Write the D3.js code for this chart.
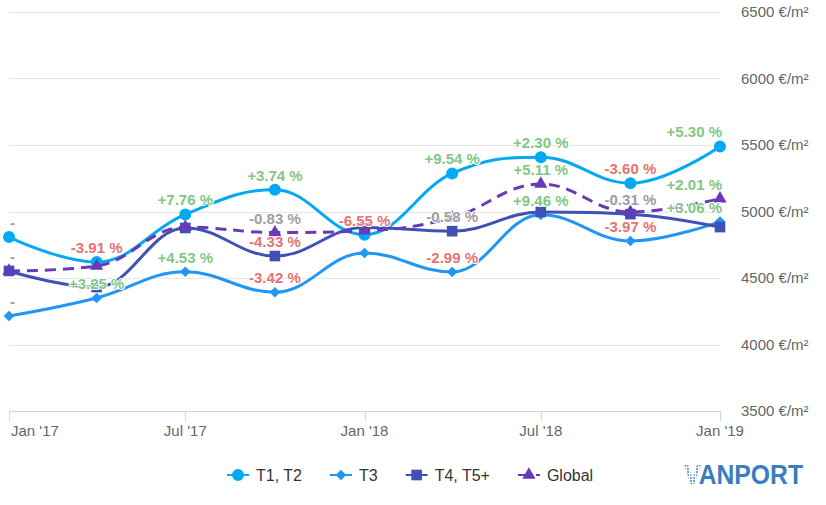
<!DOCTYPE html>
<html>
<head>
<meta charset="utf-8">
<script src="https://cdn.jsdelivr.net/npm/d3@7"></script>
<style>
  html, body { margin: 0; padding: 0; background: #fff; }
  svg { display: block; font-family: "Liberation Sans", Arial, sans-serif; }
</style>
</head>
<body>
<svg id="chart" width="826" height="505"></svg>
<script>
// ---------------- data ----------------
const dates = ["2017-01-01","2017-04-01","2017-07-01","2017-10-01","2018-01-01","2018-04-01","2018-07-01","2018-10-01","2019-01-01"];
const xTicks = ["2017-01-01","2017-07-01","2018-01-01","2018-07-01","2019-01-01"];
const yTicks = [3500, 4000, 4500, 5000, 5500, 6000, 6500];
const seriesNames = ["T1, T2", "T3", "T4, T5+", "Global"];

const t1Values = [4808, 4620, 4978, 5164, 4826, 5286, 5408, 5213, 5489];
const t3Values = [4214, 4350, 4547, 4393, 4688, 4545, 4975, 4778, 4924];
const t4Values = [4553, 4432, 4876, 4665, 4880, 4852, 4996, 4980, 4883];
const globalValues = [4553, 4590, 4883, 4842, 4855, 4954, 5207, 4996, 5097];

const t1Labels = ["-", "-3.91 %", "+7.76 %", "+3.74 %", "-6.55 %", "+9.54 %", "+2.30 %", "-3.60 %", "+5.30 %"];
const t3Labels = ["-", "+3.25 %", "+4.53 %", "-3.42 %", null, "-2.99 %", "+9.46 %", "-3.97 %", "+3.06 %"];
const t4Labels = ["-", null, null, "-4.33 %", null, "-0.58 %", null, "-0.31 %", null];
const globalLabels = [null, null, null, "-0.83 %", null, null, "+5.11 %", null, "+2.01 %"];

// ---------------- setup ----------------
const svg = d3.select("#chart");
const parse = d3.timeParse("%Y-%m-%d");
const plot = { left: 9, right: 720, top: 12, bottom: 411 };

const x = d3.scaleTime()
  .domain([parse("2017-01-01"), parse("2019-01-01")])
  .range([plot.left, plot.right]);
const y = d3.scaleLinear().domain([3500, 6500]).range([plot.bottom, plot.top]);

const series = [
  { name: seriesNames[0], values: t1Values, labels: t1Labels, color: "#03a9f4", symbol: "circle", dash: null },
  { name: seriesNames[1], values: t3Values, labels: t3Labels, color: "#2196f3", symbol: "diamond", dash: null },
  { name: seriesNames[2], values: t4Values, labels: t4Labels, color: "#3f51b5", symbol: "square", dash: null },
  { name: seriesNames[3], values: globalValues, labels: globalLabels, color: "#673ab7", symbol: "triangle", dash: "11,7" }
];

// ---------------- grid ----------------
const grid = svg.append("g");
grid.selectAll("line").data(yTicks.filter(d => d !== 3500)).join("line")
  .attr("x1", plot.left).attr("x2", plot.right + 1)
  .attr("y1", d => Math.round(y(d)) + 0.5).attr("y2", d => Math.round(y(d)) + 0.5)
  .attr("stroke", "#e6e6e6").attr("stroke-width", 1);

// y labels (right side)
svg.append("g").selectAll("text").data(yTicks).join("text")
  .attr("x", 741).attr("y", d => y(d) + 5)
  .attr("font-size", 15).attr("fill", "#666")
  .text(d => d + " €/m²");

// x axis
const xAxis = svg.append("g");
xAxis.append("line")
  .attr("x1", plot.left).attr("x2", plot.right + 1)
  .attr("y1", plot.bottom + 0.5).attr("y2", plot.bottom + 0.5)
  .attr("stroke", "#ccd6eb");
const xt = xAxis.selectAll("g.tick").data(xTicks.map(parse)).join("g").attr("class", "tick");
xt.append("line")
  .attr("x1", d => Math.round(x(d)) + 0.5).attr("x2", d => Math.round(x(d)) + 0.5)
  .attr("y1", plot.bottom).attr("y2", plot.bottom + 10)
  .attr("stroke", "#ccd6eb");
const fmt = d3.timeFormat("%b '%y");
xt.append("text")
  .attr("x", (d, i) => i === 0 ? x(d) + 2 : x(d))
  .attr("y", 436)
  .attr("text-anchor", (d, i) => i === 0 ? "start" : "middle")
  .attr("font-size", 15).attr("fill", "#666")
  .text(d => fmt(d));

// ---------------- Highcharts-like spline ----------------
function splinePath(pts) {
  const p = d3.path();
  let prevRight = null;
  pts.forEach((pt, i) => {
    const [px, py] = pt;
    if (i === 0) { p.moveTo(px, py); return; }
    const last = pts[i - 1], next = pts[i + 1];
    let lcx = px, lcy = py, rc = null;
    if (next) {
      const sm = 1.5, den = 2.5;
      lcx = (sm * px + last[0]) / den; lcy = (sm * py + last[1]) / den;
      let rcx = (sm * px + next[0]) / den, rcy = (sm * py + next[1]) / den;
      let corr = 0;
      if (rcx !== lcx) corr = ((rcy - lcy) * (rcx - px)) / (rcx - lcx) + py - rcy;
      lcy += corr; rcy += corr;
      if (lcy > last[1] && lcy > py) { lcy = Math.max(last[1], py); rcy = 2 * py - lcy; }
      else if (lcy < last[1] && lcy < py) { lcy = Math.min(last[1], py); rcy = 2 * py - lcy; }
      if (rcy > next[1] && rcy > py) { rcy = Math.max(next[1], py); lcy = 2 * py - rcy; }
      else if (rcy < next[1] && rcy < py) { rcy = Math.min(next[1], py); lcy = 2 * py - rcy; }
      rc = [rcx, rcy];
    }
    const r0 = prevRight || last;
    p.bezierCurveTo(r0[0], r0[1], lcx, lcy, px, py);
    prevRight = rc;
  });
  return p.toString();
}

const symbolMap = {
  circle: d3.symbolCircle, diamond: d3.symbolDiamond2, square: d3.symbolSquare2, triangle: d3.symbolTriangle2
};
const symbolSize = { circle: 113, diamond: 72, square: 144, triangle: 125 };
function marker(sel, s) {
  const sym = d3.symbol().type(symbolMap[s.symbol]).size(symbolSize[s.symbol]);
  sel.attr("d", sym).attr("fill", s.color);
}

// ---------------- series ----------------
const seriesG = svg.append("g");
series.forEach(s => {
  const pts = dates.map((d, i) => [x(parse(d)), y(s.values[i])]);
  seriesG.append("path")
    .attr("d", splinePath(pts))
    .attr("fill", "none").attr("stroke", s.color).attr("stroke-width", 3)
    .attr("stroke-linecap", s.dash ? "butt" : "round").attr("stroke-linejoin", "round")
    .attr("stroke-dasharray", s.dash);
  seriesG.append("g").selectAll("path").data(pts).join("path")
    .attr("transform", d => `translate(${d[0]},${d[1]})`)
    .call(marker, s);
});

// ---------------- data labels ----------------
function labelColor(t) {
  if (t === "-") return "#9e9e9e";
  const v = parseFloat(t);
  if (Math.abs(v) < 1) return "#9e9e9e";
  return v > 0 ? "#81c784" : "#e57373";
}
const labelG = svg.append("g");
series.forEach(s => {
  dates.forEach((d, i) => {
    const t = s.labels[i];
    if (t == null) return;
    const cx = x(parse(d)), cy = y(s.values[i]) - 14;
    const txt = labelG.append("text")
      .attr("y", cy + 5)
      .attr("font-size", 15).attr("font-weight", "bold")
      .attr("fill", labelColor(t))
      .attr("stroke", "#fff").attr("stroke-width", 2).attr("stroke-linejoin", "round")
      .attr("paint-order", "stroke")
      .text(t);
    const w = txt.node().getComputedTextLength();
    let left = cx - w / 2;
    if (left < plot.left + 1) left = plot.left + 1;
    if (left + w > plot.right + 2) left = plot.right + 2 - w;
    txt.attr("x", left);
  });
});

// ---------------- legend ----------------
const legend = svg.append("g");
let lx = 227;
const ly = 475;
series.forEach(s => {
  const g = legend.append("g");
  g.append("line")
    .attr("x1", lx).attr("x2", lx + 22).attr("y1", ly).attr("y2", ly)
    .attr("stroke", s.color).attr("stroke-width", 2)
    .attr("stroke-dasharray", s.dash ? "8,10" : null);
  g.append("path").attr("transform", `translate(${lx + 11},${ly})`).call(marker, s);
  const t = g.append("text")
    .attr("x", lx + 29).attr("y", ly + 6)
    .attr("font-size", 16).attr("fill", "#333")
    .text(s.name);
  lx += 29 + t.node().getComputedTextLength() + 28;
});

// ---------------- logo ----------------
const defs = svg.append("defs");
const pat = defs.append("pattern").attr("id", "dots")
  .attr("width", 3).attr("height", 3).attr("patternUnits", "userSpaceOnUse");
pat.append("rect").attr("width", 2).attr("height", 2).attr("fill", "#6f9fcf");
const logo = svg.append("text")
  .attr("x", 684).attr("y", 484)
  .attr("font-size", 27).attr("font-weight", "bold")
  .attr("fill", "#3b7dbf")
  .attr("textLength", 119).attr("lengthAdjust", "spacingAndGlyphs");
logo.append("tspan").attr("fill", "url(#dots)").text("V");
logo.append("tspan").text("ANPORT");
</script>
</body>
</html>
